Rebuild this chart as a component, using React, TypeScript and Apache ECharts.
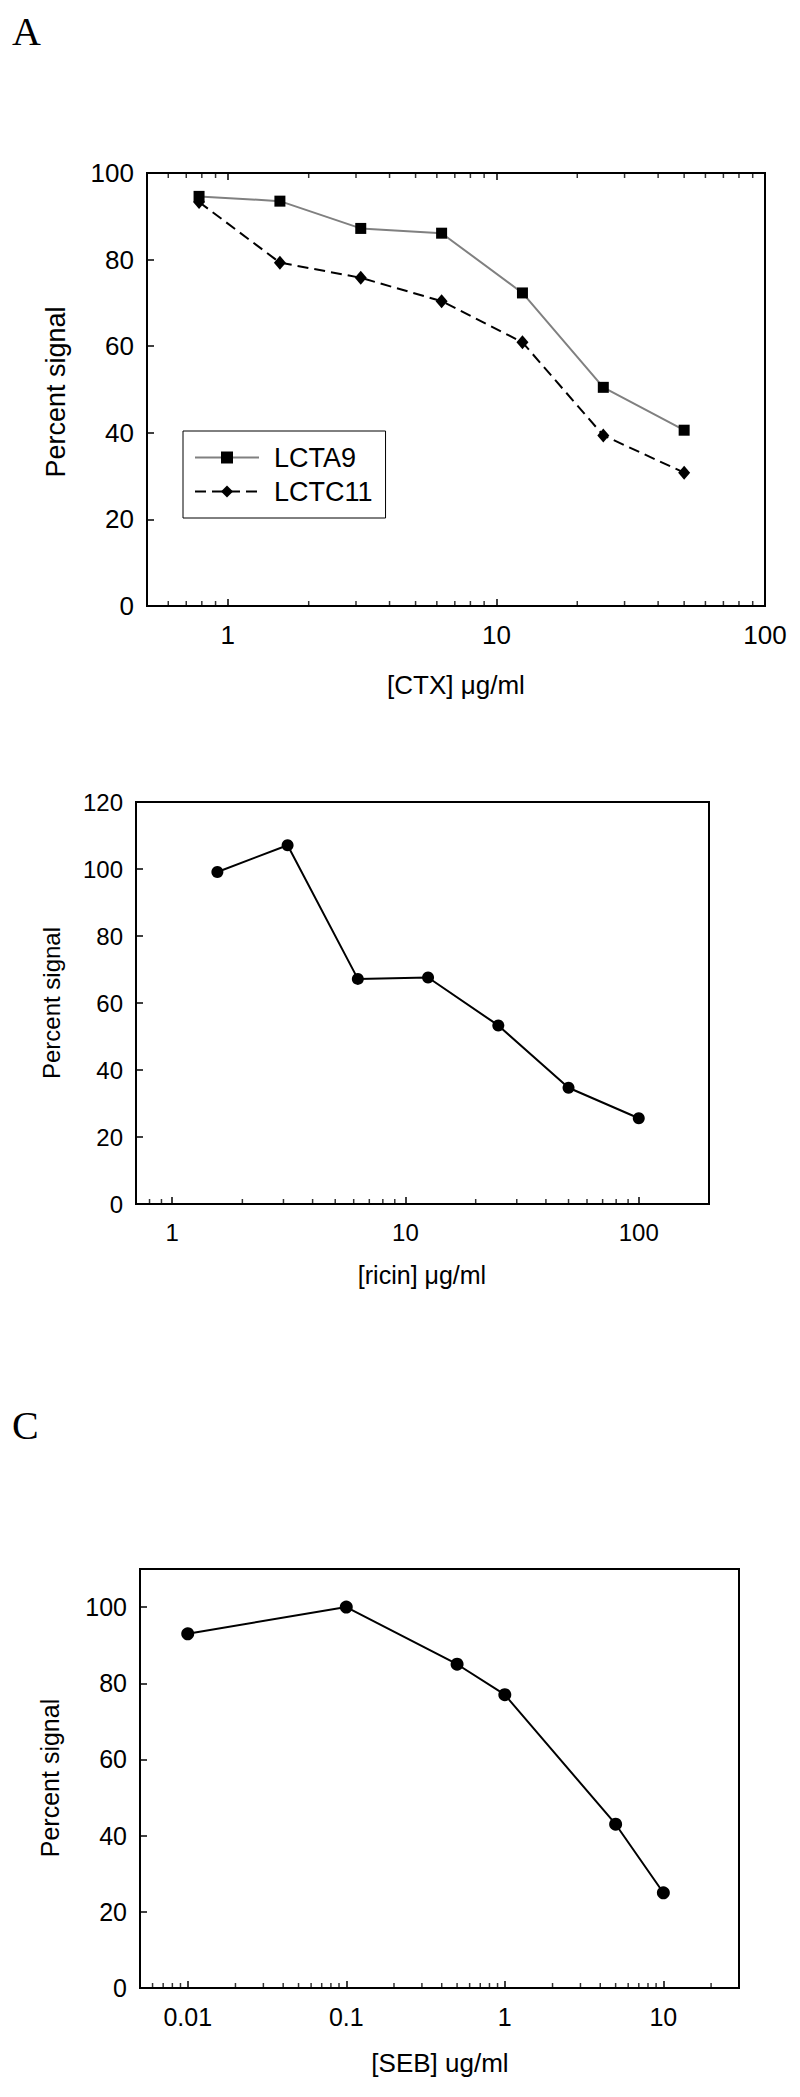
import React, { useEffect, useRef } from 'react';
import * as echarts from 'echarts';

// ---- Data ----
const ctxDoses = [0.78125, 1.5625, 3.125, 6.25, 12.5, 25, 50];
const lcta9 = [94.6, 93.5, 87.2, 86.1, 72.3, 50.5, 40.6];
const lctc11 = [93.3, 79.3, 75.8, 70.4, 60.9, 39.4, 30.8];

const ricinDoses = [1.5625, 3.125, 6.25, 12.5, 25, 50, 100];
const ricinSignal = [99.1, 107.1, 67.2, 67.6, 53.3, 34.7, 25.6];

const sebDoses = [0.01, 0.1, 0.5, 1, 5, 10];
const sebSignal = [93, 100, 85, 77, 43, 25];

// ---- Tick labels ----
const decadesA = [1, 10, 100];
const labelsA = ['1', '10', '100'];
const decadesB = [1, 10, 100];
const labelsB = ['1', '10', '100'];
const decadesC = [0.01, 0.1, 1, 10];
const labelsC = ['0.01', '0.1', '1', '10'];

const minorTicksA = [0.6, 0.7, 0.8, 0.9, 2, 3, 4, 5, 6, 7, 8, 9, 20, 30, 40, 50, 60, 70, 80, 90];
const minorTicksB = [0.8, 0.9, 2, 3, 4, 5, 6, 7, 8, 9, 20, 30, 40, 50, 60, 70, 80, 90];
const minorTicksC = [0.006, 0.007, 0.008, 0.009, 0.02, 0.03, 0.04, 0.05, 0.06, 0.07, 0.08, 0.09,
  0.2, 0.3, 0.4, 0.5, 0.6, 0.7, 0.8, 0.9, 2, 3, 4, 5, 6, 7, 8, 9, 20];

const FONT = "'Liberation Sans', Arial, Helvetica, sans-serif";
const SERIF = "'Liberation Serif', 'Times New Roman', serif";

function logFormatter(decades: number[], labels: string[]) {
  return (v: number) => {
    const i = decades.findIndex((d) => Math.abs(Math.log10(v) - Math.log10(d)) < 1e-6);
    return i >= 0 ? labels[i] : '';
  };
}

function logX(gridIndex: number, min: number, max: number, fontSize: number, fmt: any, top = false) {
  return {
    type: 'log',
    logBase: 10,
    gridIndex,
    min,
    max,
    position: top ? 'top' : 'bottom',
    axisLine: { show: !top, lineStyle: { color: '#000', width: 2 } },
    axisTick: { show: true, inside: true, length: 7, lineStyle: { color: '#000', width: 1.5 } },
    axisLabel: {
      show: !top,
      margin: 16,
      fontSize,
      fontFamily: FONT,
      color: '#000',
      formatter: fmt,
    },
    splitLine: { show: false },
    minorTick: { show: false },
  };
}

function valY(gridIndex: number, max: number, fontSize: number) {
  return {
    type: 'value',
    gridIndex,
    min: 0,
    max,
    interval: 20,
    axisLine: { show: true, lineStyle: { color: '#000', width: 2 } },
    axisTick: { show: true, inside: true, length: 7, lineStyle: { color: '#000', width: 1.5 } },
    axisLabel: {
      margin: 13,
      fontSize,
      fontFamily: FONT,
      color: '#000',
      formatter: (v: number) => (v % 20 === 0 ? String(v) : ''),
    },
    splitLine: { show: false },
  };
}

function minorSeries(xAxisIndex: number, yAxisIndex: number, values: number[], yVal: number, down: boolean) {
  return {
    type: 'scatter',
    xAxisIndex,
    yAxisIndex,
    data: values.map((v) => [v, yVal]),
    symbol: 'rect',
    symbolSize: [1.5, 5],
    symbolOffset: [0, down ? 2.5 : -2.5],
    itemStyle: { color: '#000' },
    silent: true,
    z: 5,
    emphasis: { disabled: true },
  };
}

export default function App() {
  const ref = useRef<HTMLDivElement>(null);
  useEffect(() => {
    if (!ref.current) return;
    const chart = echarts.init(ref.current, null, { renderer: 'svg' });
    const gridBase = { show: true, borderColor: '#000', borderWidth: 2, backgroundColor: 'transparent' };
    const option: any = {
      animation: false,
      grid: [
        { ...gridBase, left: 147, top: 173, width: 618, height: 433 },
        { ...gridBase, left: 136, top: 802, width: 573, height: 402 },
        { ...gridBase, left: 140, top: 1569, width: 599, height: 419 },
      ],
      xAxis: [
        logX(0, 0.5, 100, 26, logFormatter(decadesA, labelsA)),
        logX(0, 0.5, 100, 26, logFormatter(decadesA, labelsA), true),
        logX(1, 0.7, 200, 24, logFormatter(decadesB, labelsB)),
        logX(2, 0.005, 30, 25, logFormatter(decadesC, labelsC)),
      ],
      yAxis: [valY(0, 100, 26), valY(1, 120, 24), valY(2, 110, 25)],
      legend: {
        data: ['LCTA9', 'LCTC11'],
        orient: 'vertical',
        left: 183,
        top: 431,
        padding: [13, 13, 13, 11],
        itemGap: 7,
        itemWidth: 64,
        itemHeight: 15,
        borderColor: '#000',
        borderWidth: 1,
        selectedMode: false,
        textStyle: { fontSize: 27, fontFamily: FONT, color: '#000', padding: [0, 0, 0, 10] },
      },
      graphic: [
        { type: 'text', x: 12, y: 11, style: { text: 'A', font: `40px ${SERIF}`, fill: '#000', verticalAlign: 'top' } },
        { type: 'text', x: 12, y: 1405, style: { text: 'C', font: `40px ${SERIF}`, fill: '#000', verticalAlign: 'top' } },
        { type: 'text', x: 56, y: 392, rotation: Math.PI / 2, style: { text: 'Percent signal', font: `27px ${FONT}`, fill: '#000', align: 'center', verticalAlign: 'middle' } },
        { type: 'text', x: 456, y: 685, style: { text: '[CTX] \u03bcg/ml', font: `26px ${FONT}`, fill: '#000', align: 'center', verticalAlign: 'middle' } },
        { type: 'text', x: 51, y: 1003, rotation: Math.PI / 2, style: { text: 'Percent signal', font: `24px ${FONT}`, fill: '#000', align: 'center', verticalAlign: 'middle' } },
        { type: 'text', x: 422, y: 1275, style: { text: '[ricin] \u03bcg/ml', font: `25px ${FONT}`, fill: '#000', align: 'center', verticalAlign: 'middle' } },
        { type: 'text', x: 50, y: 1778, rotation: Math.PI / 2, style: { text: 'Percent signal', font: `25px ${FONT}`, fill: '#000', align: 'center', verticalAlign: 'middle' } },
        { type: 'text', x: 440, y: 2063, style: { text: '[SEB] ug/ml', font: `26px ${FONT}`, fill: '#000', align: 'center', verticalAlign: 'middle' } },
      ],
      series: [
        {
          name: 'LCTA9',
          type: 'line',
          xAxisIndex: 0,
          yAxisIndex: 0,
          data: ctxDoses.map((x, i) => [x, lcta9[i]]),
          symbol: 'rect',
          symbolSize: 11,
          itemStyle: { color: '#000' },
          lineStyle: { color: '#808080', width: 2 },
          z: 3,
        },
        {
          name: 'LCTC11',
          type: 'line',
          xAxisIndex: 0,
          yAxisIndex: 0,
          data: ctxDoses.map((x, i) => [x, lctc11[i]]),
          symbol: 'diamond',
          symbolSize: [12, 14],
          itemStyle: { color: '#000' },
          lineStyle: { color: '#000', width: 2, type: [11, 6] },
          z: 3,
        },
        {
          name: 'ricin',
          type: 'line',
          xAxisIndex: 2,
          yAxisIndex: 1,
          data: ricinDoses.map((x, i) => [x, ricinSignal[i]]),
          symbol: 'circle',
          symbolSize: 12,
          itemStyle: { color: '#000' },
          lineStyle: { color: '#000', width: 2 },
          z: 3,
        },
        {
          name: 'SEB',
          type: 'line',
          xAxisIndex: 3,
          yAxisIndex: 2,
          data: sebDoses.map((x, i) => [x, sebSignal[i]]),
          symbol: 'circle',
          symbolSize: 13,
          itemStyle: { color: '#000' },
          lineStyle: { color: '#000', width: 2 },
          z: 3,
        },
        minorSeries(0, 0, minorTicksA, 0, false),
        minorSeries(1, 0, minorTicksA, 100, true),
        minorSeries(2, 1, minorTicksB, 0, false),
        minorSeries(3, 2, minorTicksC, 0, false),
      ],
    };
    chart.setOption(option);
    return () => chart.dispose();
  }, []);
  return (
    <div
      ref={ref}
      style={{ position: 'absolute', left: 0, top: 0, width: 800, height: 2097, background: '#fff' }}
    />
  );
}
